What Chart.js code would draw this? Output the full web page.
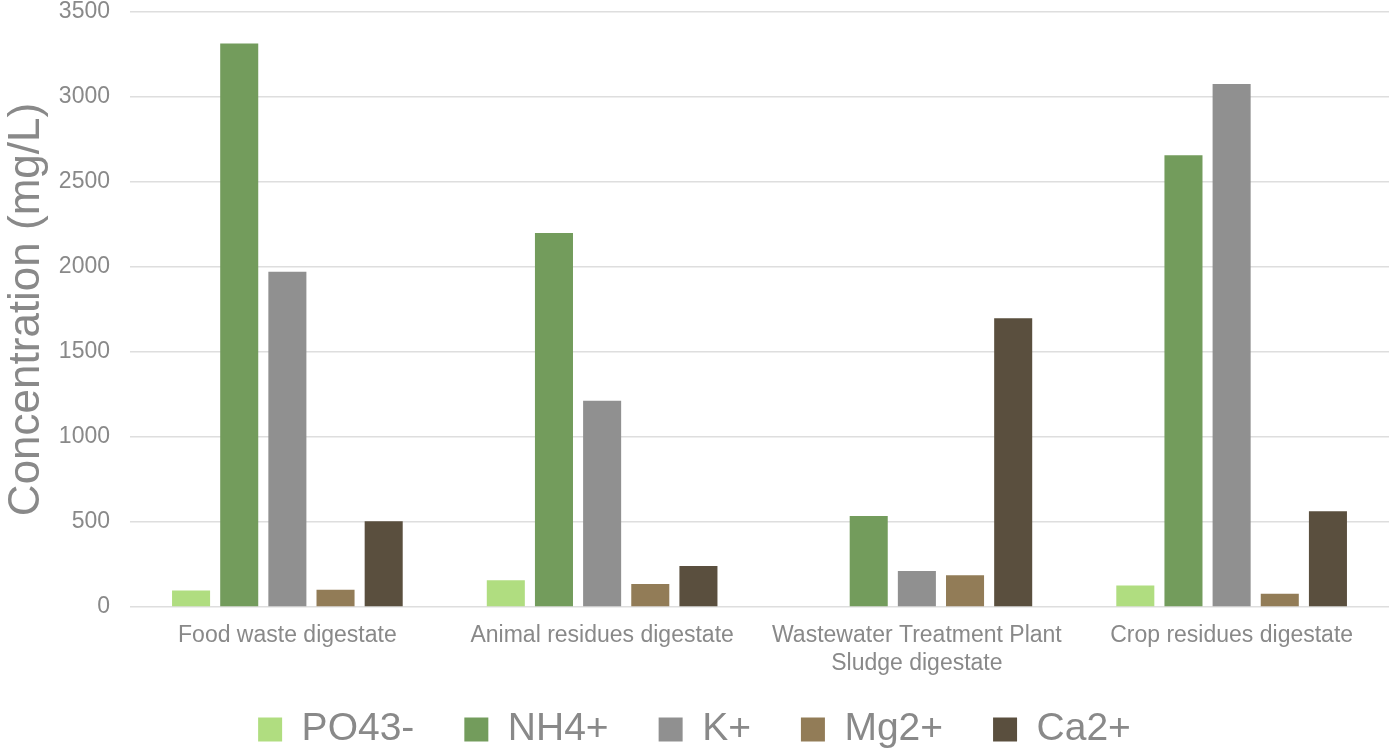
<!DOCTYPE html>
<html>
<head>
<meta charset="utf-8">
<script src="https://cdn.jsdelivr.net/npm/chart.js@4.4.1/dist/chart.umd.min.js"></script>
<style>
  html, body { margin: 0; padding: 0; background: #ffffff; }
  #wrap { width: 1389px; height: 752px; position: relative; }
</style>
</head>
<body>
<div id="wrap"><canvas id="nutrients"></canvas></div>
<script>
const categories = [
  'Food waste digestate',
  'Animal residues digestate',
  ['Wastewater Treatment Plant', 'Sludge digestate'],
  'Crop residues digestate'
];
const po4 = [97, 158, 0, 126];
const nh4 = [3315, 2200, 535, 2658];
const kPlus = [1972, 1213, 212, 3076];
const mg2 = [102, 135, 187, 78];
const ca2 = [505, 241, 1698, 563];
const yTicks = [0, 500, 1000, 1500, 2000, 2500, 3000, 3500];

const textColor = '#898989';
const gridColor = '#dedede';
const fontFamily = 'Liberation Sans, Arial, sans-serif';

const makeSet = (label, data, color) => ({
  label,
  data,
  backgroundColor: color,
  borderColor: color,
  borderWidth: 0,
  barPercentage: 0.79,
  categoryPercentage: 0.765
});

// keep the legend box compact so its big item padding does not eat the plot,
// and let the two-line category label run below the short x axis box
const compactBottom = {
  id: 'compactBottom',
  beforeInit(chart) {
    const fit = chart.legend.fit;
    chart.legend.fit = function () {
      fit.call(this);
      this.height = 92;
    };
  },
  afterLayout(chart) {
    chart.scales.x.bottom = chart.height;
  }
};

new Chart(document.getElementById('nutrients'), {
  type: 'bar',
  data: {
    labels: categories,
    datasets: [
      makeSet('PO43-', po4, '#b0dd80'),
      makeSet('NH4+', nh4, '#739c5c'),
      makeSet('K+', kPlus, '#909090'),
      makeSet('Mg2+', mg2, '#927c57'),
      makeSet('Ca2+', ca2, '#5a4f3e')
    ]
  },
  plugins: [compactBottom],
  options: {
    animation: false,
    responsive: true,
    maintainAspectRatio: false,
    layout: {
      padding: { top: 12, right: 0, bottom: 0, left: 0 }
    },
    plugins: {
      tooltip: { enabled: false },
      legend: {
        position: 'bottom',
        labels: {
          boxWidth: 24,
          boxHeight: 24,
          padding: 50,
          color: textColor,
          font: { family: fontFamily, size: 39 }
        }
      }
    },
    scales: {
      x: {
        grid: { display: false, drawTicks: false },
        border: { display: false },
        ticks: {
          color: textColor,
          padding: 15,
          maxRotation: 0,
          autoSkip: false,
          font: { family: fontFamily, size: 23, lineHeight: 1.22 }
        },
        afterFit: scale => { scale.height = 53; }
      },
      y: {
        min: 0,
        max: 3500,
        afterBuildTicks: scale => { scale.ticks = yTicks.map(v => ({ value: v })); },
        grid: { color: gridColor, lineWidth: 1.5, drawTicks: false },
        border: { display: false },
        ticks: {
          color: textColor,
          padding: 20,
          callback: value => String(value),
          font: { family: fontFamily, size: 23 }
        },
        title: {
          display: true,
          text: 'Concentration (mg/L)',
          color: textColor,
          padding: { top: 0, bottom: 0 },
          font: { family: fontFamily, size: 44 }
        },
        afterFit: scale => {
          scale.width = 130;
          scale.paddingTop = 0;
          scale.paddingBottom = 0;
        }
      }
    }
  }
});
</script>
</body>
</html>
